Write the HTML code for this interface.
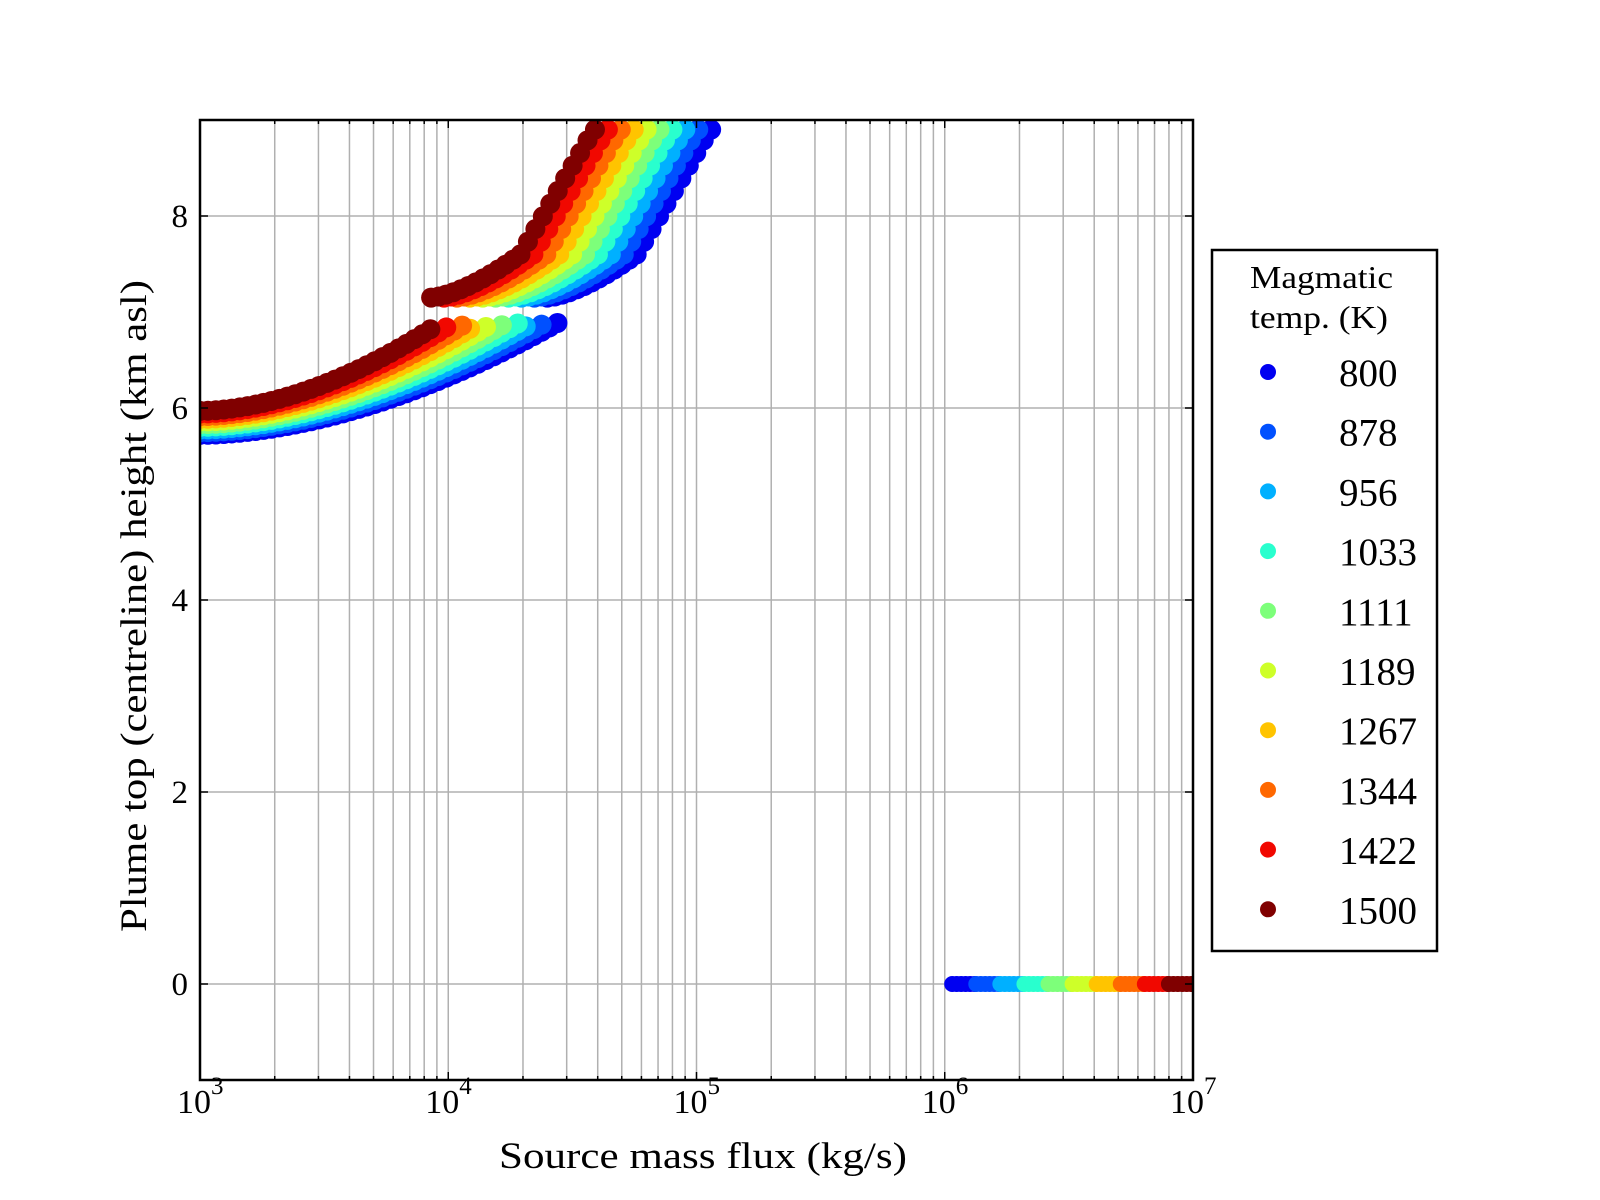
<!DOCTYPE html>
<html><head><meta charset="utf-8">
<style>
html,body{margin:0;padding:0;background:#fff;}
svg{display:block;}
text{font-family:"Liberation Serif",serif;fill:#000;}
</style></head>
<body>
<svg id="s" width="1600" height="1200" xmlns="http://www.w3.org/2000/svg">
<defs><clipPath id="c"><rect x="200" y="120" width="993" height="960"/></clipPath></defs>
<g id="grid"></g>
<g id="data" clip-path="url(#c)"></g>
<g id="ticks"></g>
<rect x="200" y="120" width="993" height="960" fill="none" stroke="#000" stroke-width="2.5"/>
<g font-size="33">
<text x="188" y="995" text-anchor="end">0</text>
<text x="188" y="803" text-anchor="end">2</text>
<text x="188" y="611" text-anchor="end">4</text>
<text x="188" y="419" text-anchor="end">6</text>
<text x="188" y="227" text-anchor="end">8</text>
</g>
<g id="xl" font-size="34"></g>
<text x="703" y="1168" font-size="37" text-anchor="middle" textLength="408" lengthAdjust="spacingAndGlyphs">Source mass flux (kg/s)</text>
<text transform="translate(146,606) rotate(-90)" font-size="37" text-anchor="middle" textLength="652" lengthAdjust="spacingAndGlyphs">Plume top (centreline) height (km asl)</text>
<rect x="1212" y="250" width="225" height="701" fill="#fff" stroke="#000" stroke-width="2.5"/>
<text x="1250" y="288" font-size="32" textLength="143" lengthAdjust="spacingAndGlyphs">Magmatic</text>
<text x="1250" y="328" font-size="32" textLength="138" lengthAdjust="spacingAndGlyphs">temp. (K)</text>
<g id="leg" font-size="39"></g>
</svg>
<script>
var ns="http://www.w3.org/2000/svg";
function el(p,t,a){var e=document.createElementNS(ns,t);for(var k in a)e.setAttribute(k,a[k]);p.appendChild(e);return e;}
var X0=200,W=993;
function px(L){return X0+(L-3)*W/4;}
function py(h){return 984-h*96;}
var grid=document.getElementById('grid'),ticks=document.getElementById('ticks');
for(var d=3;d<7;d++)for(var m=1;m<10;m++){
 var x=px(d+Math.log10(m));
 if(x>X0+0.5)el(grid,'line',{x1:x,x2:x,y1:120,y2:1080,stroke:'#b0b0b0','stroke-width':1.5});
 var len=m==1?8:4;
 el(ticks,'line',{x1:x,x2:x,y1:1080,y2:1080-len,stroke:'#000','stroke-width':1.5});
 el(ticks,'line',{x1:x,x2:x,y1:120,y2:120+len,stroke:'#000','stroke-width':1.5});
}
for(var h=0;h<=8;h+=2){var y=py(h);
 el(grid,'line',{x1:200,x2:1193,y1:y,y2:y,stroke:'#b0b0b0','stroke-width':1.5});
 el(ticks,'line',{x1:200,x2:208,y1:y,y2:y,stroke:'#000','stroke-width':1.5});
 el(ticks,'line',{x1:1193,x2:1185,y1:y,y2:y,stroke:'#000','stroke-width':1.5});}
var xl=document.getElementById('xl');
for(var d=3;d<=7;d++){var t=el(xl,'text',{x:px(d)-6,y:1113,'text-anchor':'middle'});t.textContent='10';
 var s=el(xl,'text',{x:px(d)+11,y:1094,'font-size':25});s.textContent=d;}
var cols=['#0000f1','#0050ff','#00b0ff','#29ffce','#7dff7a','#ceff29','#ffc400','#ff6800','#f10800','#800000'];
var labs=['800','878','956','1033','1111','1189','1267','1344','1422','1500'];
var data=document.getElementById('data');
for(var k=0;k<10;k++){
 var c=cols[k];
 var a=5.72+0.25*k/9, he=6.9-0.05*k/9, Le=4.45-k*0.056;
 for(var L=3;L<=Le+1e-9;L+=0.032){
  var u=(L-3)/(Le-3);var hh=a+(he-a)*Math.pow(u,1.8);
  el(data,'circle',{cx:px(L),cy:py(hh),r:10,fill:c});}
 var Ls=3.931+(9-k)*0.052;
 var kn=0.36;
 for(var L=Ls;;L+=0.03){
  var v=L-Ls,hh;
  if(v<kn)hh=7.15+0.45*Math.pow(v/kn,1.5);else hh=7.6+(v-kn)*4.4;
  if(hh>8.9)hh=8.9;
  el(data,'circle',{cx:px(L),cy:py(hh),r:10,fill:c});
  if(hh>=8.9)break;}
 var b0=6.03+k*0.097;
 for(var L=b0;L<b0+0.097;L+=0.018)el(data,'circle',{cx:px(L),cy:py(0),r:8,fill:c});
}
var leg=document.getElementById('leg');
for(var k=0;k<10;k++){var y=372+k*59.7;
 el(leg,'circle',{cx:1268,cy:y,r:8,fill:cols[k]});
 var t=el(leg,'text',{x:1339,y:y+14});t.textContent=labs[k];}
</script>
</body></html>
